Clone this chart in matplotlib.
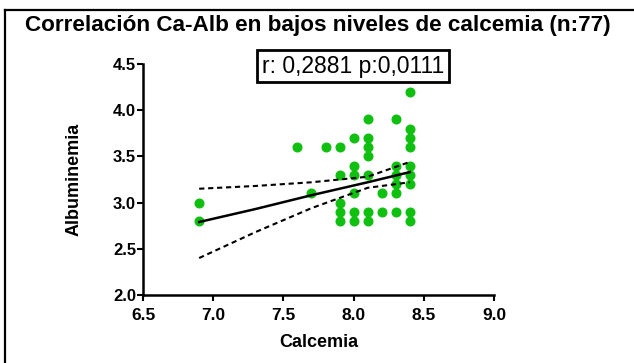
import numpy as np
import matplotlib.pyplot as plt
from matplotlib.lines import Line2D

plt.rcParams['font.family'] = ['Liberation Sans', 'DejaVu Sans']

# calcemia / albuminemia pairs (overlapping values drawn once)
calcemia = [6.9, 6.9,
            7.6, 7.7, 7.8,
            7.9, 7.9, 7.9, 7.9, 7.9,
            8.0, 8.0, 8.0, 8.0, 8.0, 8.0,
            8.1, 8.1, 8.1, 8.1, 8.1, 8.1, 8.1,
            8.2, 8.2,
            8.3, 8.3, 8.3, 8.3, 8.3, 8.3,
            8.4, 8.4, 8.4, 8.4, 8.4, 8.4, 8.4, 8.4, 8.4]
albumin = [3.0, 2.8,
           3.6, 3.1, 3.6,
           3.6, 3.3, 3.0, 2.9, 2.8,
           3.7, 3.4, 3.3, 3.1, 2.9, 2.8,
           3.9, 3.7, 3.6, 3.5, 3.3, 2.9, 2.8,
           3.1, 2.9,
           3.9, 3.4, 3.3, 3.2, 3.1, 2.9,
           4.2, 3.8, 3.7, 3.6, 3.4, 3.3, 3.2, 2.9, 2.8]

# linear fit and 95% confidence band
fit_x = [6.9, 7.3, 7.7, 8.1, 8.4]
fit_y = [2.79, 2.93, 3.08, 3.22, 3.33]
band_lo = [2.40, 2.68, 2.94, 3.16, 3.22]
band_hi = [3.15, 3.18, 3.22, 3.28, 3.44]

x_ticks = [6.5, 7.0, 7.5, 8.0, 8.5, 9.0]
y_ticks = [2.0, 2.5, 3.0, 3.5, 4.0, 4.5]

fig = plt.figure(figsize=(6.34, 3.63), dpi=100)
ax = fig.add_axes([143 / 634, 1 - 295 / 363, 351 / 634, 231 / 363])

ax.plot(calcemia, albumin, 'o', color='#10c010', ms=6.2, mec='#10c010', zorder=2)
ax.plot(fit_x, fit_y, '-', color='black', lw=1.8, zorder=3)
ax.plot(fit_x, band_lo, color='black', lw=1.5, dashes=(2.5, 1.8), zorder=3)
ax.plot(fit_x, band_hi, color='black', lw=1.5, dashes=(2.5, 1.8), zorder=3)

ax.set_xlim(6.5, 9.0)
ax.set_ylim(2.0, 4.5)
ax.set_xticks(x_ticks)
ax.set_yticks(y_ticks)
ax.set_xticklabels([f'{t:.1f}' for t in x_ticks], fontweight='bold', fontsize=12.5)
ax.set_yticklabels([f'{t:.1f}' for t in y_ticks], fontweight='bold', fontsize=12)
for side in ['top', 'right']:
    ax.spines[side].set_visible(False)
for side in ['left', 'bottom']:
    ax.spines[side].set_linewidth(1.8)
ax.tick_params(width=1.5, length=4, pad=1, colors='black')
ax.tick_params(axis='x', pad=5)

ax.set_xlabel('Calcemia', fontsize=13, fontweight='bold', labelpad=8)
ax.set_ylabel('Albuminemia', fontsize=13, fontweight='bold', labelpad=22)

fig.text(0.502, 1 - 26 / 363, 'Correlación Ca-Alb en bajos niveles de calcemia (n:77)',
         ha='center', va='center', fontsize=16.2, fontweight='bold')
fig.text(353 / 634, 1 - 66 / 363, 'r: 0,2881 p:0,0111', ha='center', va='center',
         fontsize=16.5, bbox=dict(boxstyle='square,pad=0.2', fc='white', ec='black', lw=2))

# outer frame, top and left edges
fig.add_artist(Line2D([5 / 634, 1], [1 - 10 / 363] * 2, color='black', lw=1.6))
fig.add_artist(Line2D([5 / 634] * 2, [0, 1 - 10 / 363], color='black', lw=1.6))

fig.savefig('out.png', dpi=100)
